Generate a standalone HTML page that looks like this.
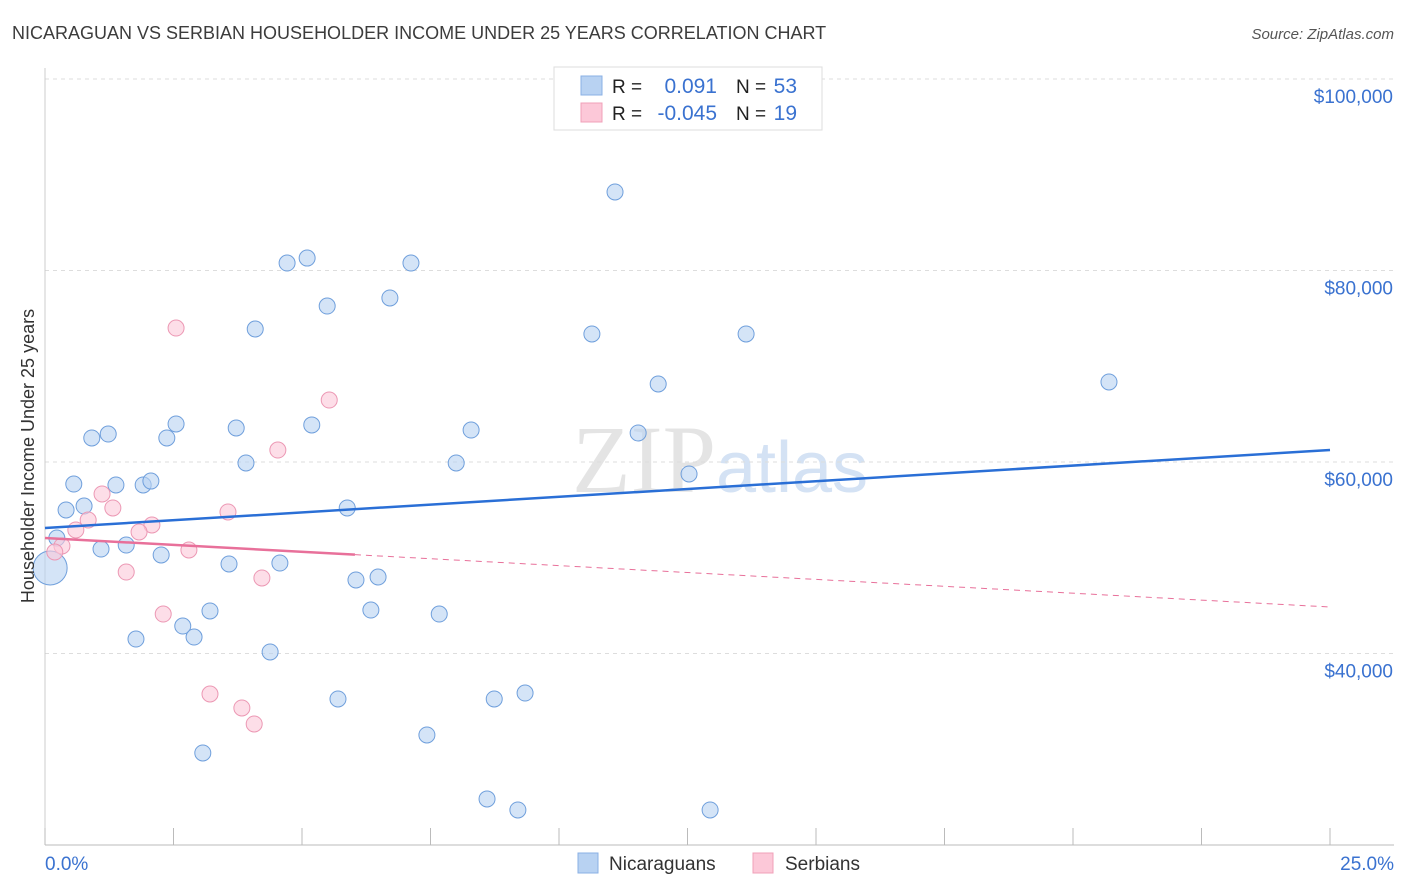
<!DOCTYPE html>
<html><head><meta charset="utf-8"><style>
body{margin:0;background:#fff;font-family:"Liberation Sans",sans-serif;}
svg{display:block}
</style></head><body>
<svg id="chart" width="1406" height="892" xmlns="http://www.w3.org/2000/svg">
<text x="12" y="39" font-size="18" fill="#3c3c3c">NICARAGUAN VS SERBIAN HOUSEHOLDER INCOME UNDER 25 YEARS CORRELATION CHART</text>
<text x="1394" y="39" font-size="15" fill="#555" font-style="italic" text-anchor="end">Source: ZipAtlas.com</text>
<text x="720" y="492" font-size="96" fill="#e4e4e4" text-anchor="middle" font-family="Liberation Serif,serif">ZIP<tspan fill="#d4e2f4" font-family="Liberation Sans,sans-serif" font-size="72">atlas</tspan></text>
<g id="grid"></g>
<g id="axes"></g>
<g id="marks"></g>
<g>
<rect x="554" y="67" width="268" height="63" fill="#fff" stroke="#ddd"/>
<rect x="581" y="76" width="21" height="19" fill="#b8d2f2" stroke="#8ab0e4"/>
<rect x="581" y="103" width="21" height="19" fill="#fcc8d8" stroke="#f0a0b8"/>
<text x="612" y="93" font-size="19" fill="#222">R =</text>
<text x="717" y="93" font-size="21" fill="#3a72d0" text-anchor="end">0.091</text>
<text x="736" y="93" font-size="19" fill="#222">N =</text>
<text x="797" y="93" font-size="21" fill="#3a72d0" text-anchor="end">53</text>
<text x="612" y="120" font-size="19" fill="#222">R =</text>
<text x="717" y="120" font-size="21" fill="#3a72d0" text-anchor="end">-0.045</text>
<text x="736" y="120" font-size="19" fill="#222">N =</text>
<text x="797" y="120" font-size="21" fill="#3a72d0" text-anchor="end">19</text>
</g>
<g>
<rect x="578" y="853" width="20" height="20" fill="#b8d2f2" stroke="#8ab0e4"/>
<text x="609" y="870" font-size="19" fill="#333">Nicaraguans</text>
<rect x="753" y="853" width="20" height="20" fill="#fcc8d8" stroke="#f0a0b8"/>
<text x="785" y="870" font-size="19" fill="#333">Serbians</text>
</g>
<text transform="translate(34,456) rotate(-90)" font-size="18" fill="#333" text-anchor="middle">Householder Income Under 25 years</text>
</svg>
<script>
const yTicks=[40000,60000,80000,100000];
const yTickLabels=["$40,000","$60,000","$80,000","$100,000"];
const xEndLabels=["0.0%","25.0%"];
const nicX=[11.09,4.71,5.10,7.12,5.49,6.71,4.09,10.64,13.64,11.93,20.70,0.91,1.23,2.37,2.55,3.72,5.19,8.29,11.54,3.91,8.00,0.56,1.38,1.91,2.06,12.53,0.76,0.41,5.88,0.23,1.09,1.58,2.26,3.58,4.57,6.05,6.48,3.21,6.34,7.67,1.77,2.68,2.90,4.38,5.70,8.74,9.34,7.43,3.07,8.60,9.20,12.94,0.10];
const nicY=[88200,80780,81300,80780,76290,77130,73890,73370,73370,68150,68360,62510,62920,62510,63970,63550,63870,63340,63030,59900,59900,57700,57600,57600,58010,58750,55400,54990,55200,52060,50910,51330,50290,49350,49450,47680,47990,44440,44540,44120,41510,42870,41720,40160,35250,35250,35870,31490,29610,24810,23660,23660,48930];
const serX=[2.55,5.53,4.53,1.11,1.32,0.84,3.56,2.08,1.83,0.60,0.33,0.19,2.80,1.58,4.22,2.30,3.21,3.83,4.07];
const serY=[73990,66470,61250,56660,55200,53940,54780,53420,52690,52900,51230,50600,50810,48510,47890,44120,35770,34310,32640];
const nicTrend=[53106,61253];
const serTrend=[52060,44856];
const serSolidEnd=6.03;
const NS="http://www.w3.org/2000/svg";
const X=p=>45+p*51.4;
const Y=v=>79+(100000-v)*191.5/20000;
function mk(g,t,a){const e=document.createElementNS(NS,t);for(const k in a)e.setAttribute(k,a[k]);document.getElementById(g).appendChild(e);return e;}
yTicks.forEach((v,i)=>{
 const l=mk('grid','line',{x1:45,x2:1394,y1:Y(v),y2:Y(v),stroke:'#ddd','stroke-dasharray':'4,4'});
 
 
 const t=mk('axes','text',{x:1393,y:Y(v)+24,'font-size':19,fill:'#3a72d0','text-anchor':'end'});
 t.textContent=yTickLabels[i];
 
 
});
const ax=mk('axes','line',{x1:45,x2:1394,y1:845,y2:845,stroke:'#bbb'});


const ay=mk('axes','line',{x1:45,x2:45,y1:68,y2:845,stroke:'#ccc'});


for(let i=0;i<=10;i++){
 const tk=mk('axes','line',{x1:X(i*2.5),x2:X(i*2.5),y1:828,y2:845,stroke:'#bbb'});
 
 
}
const xl0=mk('axes','text',{x:45,y:870,'font-size':19,fill:'#3a72d0'});xl0.textContent=xEndLabels[0];


const xl1=mk('axes','text',{x:1394,y:870,'font-size':19,fill:'#3a72d0','text-anchor':'end'});xl1.textContent=xEndLabels[1];


nicX.forEach((x,i)=>{
 const big=i===nicX.length-1;
 const c=mk('marks','circle',{cx:X(x),cy:Y(nicY[i]),r:big?17:8,fill:'#b8d2f2','fill-opacity':0.6,stroke:'#6f9fdc','stroke-width':1});
 
 
});
serX.forEach((x,i)=>{
 const c=mk('marks','circle',{cx:X(x),cy:Y(serY[i]),r:8,fill:'#fcc8d8','fill-opacity':0.6,stroke:'#ec98b4','stroke-width':1});
 
 
});
const nt=mk('marks','line',{x1:X(0),y1:Y(nicTrend[0]),x2:X(25),y2:Y(nicTrend[1]),stroke:'#2a6fd6','stroke-width':2.5});


const sv=v=>serTrend[0]+(serTrend[1]-serTrend[0])*v/25;
const st=mk('marks','line',{x1:X(0),y1:Y(serTrend[0]),x2:X(serSolidEnd),y2:Y(sv(serSolidEnd)),stroke:'#e8709a','stroke-width':2.5});


const sd=mk('marks','line',{x1:X(serSolidEnd),y1:Y(sv(serSolidEnd)),x2:X(25),y2:Y(serTrend[1]),stroke:'#e8709a','stroke-width':1,'stroke-dasharray':'6,5'});


</script>
</body></html>
